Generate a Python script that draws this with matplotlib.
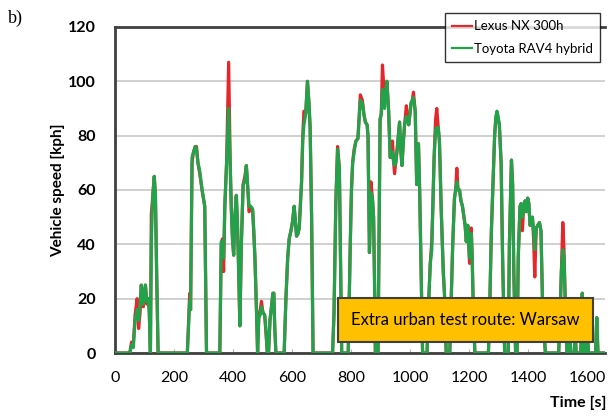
import matplotlib.pyplot as plt
from matplotlib.patches import Rectangle

# speed traces (time in s, speed in kph)
time_s = [
    0, 50, 56, 62, 68, 75, 80, 85, 89, 96, 103, 108, 113, 116, 120, 123, 128, 133, 137, 141, 146,
    245, 250, 253, 256, 261, 266, 272, 276, 281, 287, 295, 304, 310,
    355, 360, 364, 368, 372, 378, 385, 390, 394, 398, 402, 406, 411, 415, 419, 423, 428, 434, 440,
    445, 449, 454, 460, 466, 470, 474, 480, 483, 487, 492, 496, 501, 507, 512, 516,
    520, 525, 530, 535, 538, 541, 545,
    573, 579, 585, 590, 596, 601, 607, 615, 620, 624, 632, 636, 640, 646, 652, 657, 661, 666, 671,
    737, 742, 748, 754, 760, 764, 768, 790, 797, 801, 805, 810, 816, 823, 831, 838, 843, 848, 854,
    857, 862, 867, 872, 876, 880, 882, 891, 895, 898, 902, 906, 910, 913, 917, 921, 927, 932, 936,
    940, 944, 947, 951, 955, 960, 964, 968, 972, 977, 981, 987, 991, 995, 999, 1003, 1007, 1011,
    1017, 1022, 1025, 1028, 1032, 1037, 1042, 1057, 1063, 1068, 1073, 1077, 1081, 1086, 1090, 1095,
    1099, 1105, 1112, 1116, 1122, 1134, 1139, 1144, 1150, 1154, 1158, 1162, 1167, 1172, 1177, 1182,
    1186, 1190, 1195, 1201, 1207, 1210, 1213, 1219,
    1265, 1270, 1275, 1280, 1286, 1290, 1294, 1298, 1302, 1308, 1313, 1320,
    1332, 1336, 1343, 1347, 1351, 1357, 1362, 1366, 1372, 1376, 1380, 1384, 1389, 1393, 1398, 1402,
    1406, 1410, 1414, 1418, 1422, 1427, 1432, 1438, 1443, 1448, 1452, 1458,
    1503, 1508, 1512, 1517, 1521, 1525, 1531, 1536, 1540, 1544, 1556, 1559, 1562, 1578, 1583, 1588,
    1596, 1600, 1604, 1628, 1632, 1636, 1660,
]
rav4_kph = [
    0, 0, 3, 2, 12, 16, 12, 18, 25, 18, 25, 19, 20, 15, 0, 40, 58, 65, 58, 30, 0,
    0, 12, 19, 16, 72, 74, 76, 75, 70, 67, 60, 54, 0,
    0, 41, 40, 35, 54, 70, 90, 70, 53, 42, 36, 50, 58, 47, 30, 10, 40, 62, 63,
    69, 62, 54, 54, 53, 45, 35, 13, 0, 13, 14, 17, 15, 14, 8, 0,
    0, 12, 17, 22, 22, 10, 0,
    0, 20, 35, 42, 45, 48, 54, 43, 44, 46, 63, 78, 84, 88, 100, 92, 83, 50, 0,
    0, 15, 55, 75, 68, 35, 0, 0, 40, 60, 70, 74, 78, 79, 93, 92, 88, 85, 84,
    80, 37, 59, 57, 50, 20, 0, 0, 50, 86, 88, 97, 94, 90, 96, 100, 89, 72, 72,
    74, 70, 69, 70, 74, 80, 85, 75, 69, 78, 84, 87, 86, 84, 88, 92, 93, 94,
    89, 62, 68, 77, 60, 30, 0, 0, 20, 33, 38, 55, 72, 82, 83, 83,
    78, 53, 30, 22, 0, 0, 20, 40, 57, 60, 63, 60, 60, 56, 54, 50,
    47, 41, 47, 35, 44, 35, 20, 0,
    0, 20, 45, 61, 80, 87, 89, 87, 84, 70, 35, 0,
    0, 40, 71, 62, 30, 0, 0, 35, 54, 55, 50, 53, 56, 52, 57, 55,
    47, 48, 50, 45, 38, 46, 47, 48, 45, 20, 10, 0,
    0, 15, 30, 38, 35, 20, 0, 0, 10, 0, 0, 8, 0, 0, 22, 0,
    0, 8, 0, 0, 13, 0, 0,
]
lexus_kph = [
    0, 0, 4, 3, 14, 20, 9, 15, 25, 17, 25, 18, 20, 16, 0, 51, 58, 65, 57, 30, 0,
    0, 14, 22, 16, 70, 74, 76, 76, 70, 66, 60, 54, 0,
    0, 40, 42, 30, 54, 70, 107, 72, 53, 42, 36, 50, 58, 47, 30, 10, 40, 62, 65,
    69, 62, 52, 53, 53, 45, 35, 13, 0, 13, 16, 19, 15, 14, 6, 0,
    0, 12, 17, 22, 22, 10, 0,
    0, 20, 35, 42, 45, 48, 54, 43, 44, 46, 63, 80, 89, 88, 100, 92, 83, 50, 0,
    0, 15, 55, 76, 68, 35, 0, 0, 40, 60, 70, 75, 78, 79, 95, 93, 88, 85, 84,
    80, 37, 63, 57, 50, 20, 0, 0, 50, 86, 88, 106, 99, 93, 96, 100, 89, 72, 72,
    78, 70, 66, 70, 74, 80, 85, 75, 69, 78, 84, 91, 86, 84, 88, 92, 93, 96,
    89, 62, 68, 77, 60, 30, 0, 0, 20, 33, 41, 55, 72, 86, 90, 83,
    78, 53, 30, 22, 0, 0, 20, 40, 57, 60, 68, 60, 60, 56, 54, 50,
    47, 41, 47, 33, 46, 35, 20, 0,
    0, 20, 45, 61, 80, 86, 88, 86, 84, 70, 35, 0,
    0, 40, 71, 62, 30, 0, 0, 35, 54, 55, 45, 53, 56, 52, 57, 55,
    47, 48, 50, 42, 28, 46, 47, 48, 45, 20, 10, 0,
    0, 15, 30, 48, 38, 20, 0, 0, 10, 0, 0, 8, 0, 0, 22, 0,
    0, 8, 0, 0, 13, 0, 0,
]

y_ticks = [0, 20, 40, 60, 80, 100, 120]
x_ticks = [0, 200, 400, 600, 800, 1000, 1200, 1400, 1600]

plt.rcParams["font.family"] = ["Lato", "DejaVu Sans"]

fig = plt.figure(figsize=(6.13, 4.18), dpi=100)
ax = fig.add_axes([0.1876, 0.1555, 0.7994, 0.78])

ax.plot(time_s, lexus_kph, color="#e5262b", lw=2.3, label="Lexus NX 300h", zorder=3)
ax.plot(time_s, rav4_kph, color="#22a34b", lw=2.3, label="Toyota RAV4 hybrid", zorder=4)

ax.set_xlim(0, 1660)
ax.set_ylim(0, 120)
ax.set_yticks(y_ticks)
ax.set_xticks(x_ticks)
ax.grid(axis="y", color="#c8c8c8", lw=1.2)
ax.set_axisbelow(True)
for side in ax.spines.values():
    side.set_color("#404040")
    side.set_linewidth(2)
ax.spines["right"].set_visible(False)
ax.tick_params(axis="y", length=0, pad=14, labelsize=11.5)
ax.tick_params(axis="x", length=3, direction="in", color="#b0b0b0", pad=13, labelsize=11.5)
for lab in ax.get_yticklabels():
    lab.set_fontweight("bold")

ax.set_ylabel("Vehicle speed [kph]", fontsize=11, fontweight="bold", labelpad=2)
fig.text(0.99, 0.035, "Time [s]", ha="right", va="center", fontsize=11.5, fontweight="bold")
fig.text(0.013, 0.955, "b)", ha="left", va="center", fontsize=13, family="Liberation Serif")

leg = ax.legend(loc="upper right", bbox_to_anchor=(0.99, 0.985), bbox_transform=fig.transFigure,
                fontsize=9.5, frameon=True, fancybox=False, edgecolor="black",
                handlelength=1.5, handletextpad=0.15, borderpad=0.55, labelspacing=0.8)
leg.get_frame().set_linewidth(1)
for h in leg.legend_handles:
    h.set_linewidth(1.6)

box = Rectangle((0.551, 0.182), 0.416, 0.105, transform=fig.transFigure,
                facecolor="#ffc000", edgecolor="#404040", lw=1.5, zorder=5)
fig.add_artist(box)
fig.text(0.759, 0.2345, "Extra urban test route: Warsaw", ha="center", va="center",
         fontsize=12, zorder=6)

fig.savefig("out.png", dpi=100)
